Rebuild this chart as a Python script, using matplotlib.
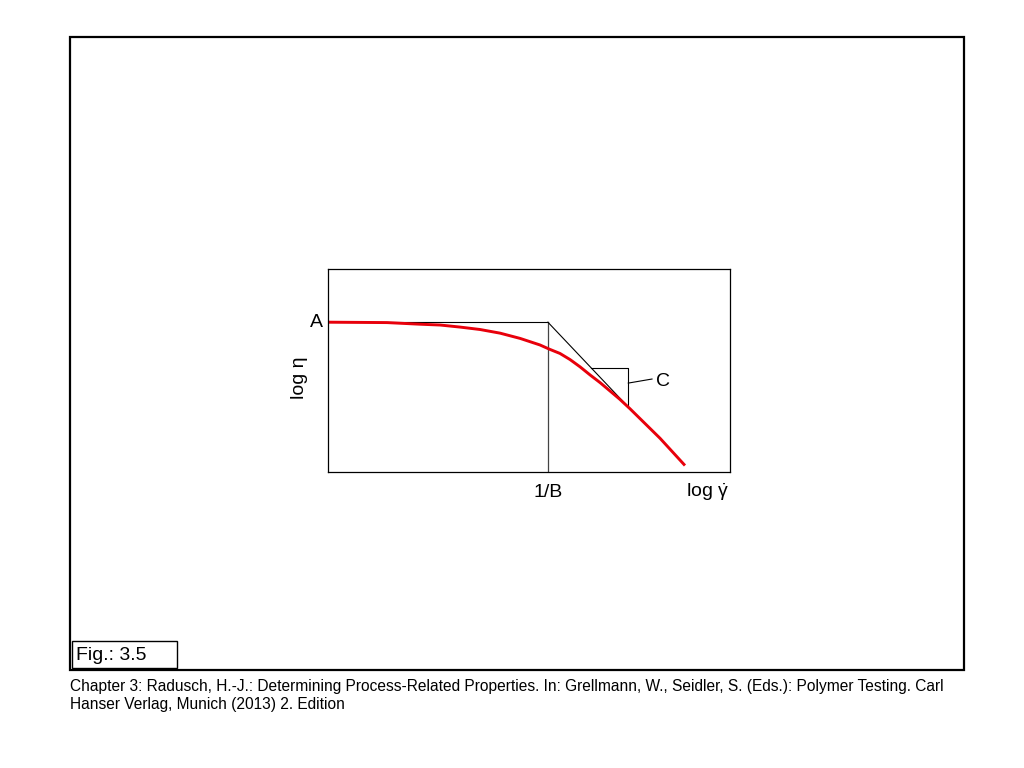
import matplotlib
matplotlib.use("Agg")
import matplotlib.pyplot as plt
from matplotlib.patches import Rectangle

plt.rcParams['font.family'] = ['Liberation Sans', 'DejaVu Sans']
plt.rcParams['mathtext.fontset'] = 'custom'
plt.rcParams['mathtext.rm'] = 'Liberation Sans'

# curve (log shear rate, log viscosity), arbitrary units
log_rate = [0.0, 1.47, 2.29, 2.79, 3.28, 3.78, 4.28, 4.78, 5.27, 5.52, 5.77, 6.02,
            6.27, 6.52, 6.77, 7.01, 7.26, 7.51, 8.26, 8.88]
log_visc = [3.69, 3.68, 3.64, 3.62, 3.57, 3.51, 3.42, 3.29, 3.13, 3.02, 2.92, 2.77,
            2.59, 2.39, 2.20, 2.00, 1.79, 1.56, 0.83, 0.16]

a_level = 3.69        # zero shear viscosity level (A)
b_pos = 5.47          # 1/B position
tangent_end = (7.47, 1.60)
tri_top = 2.56
tri_left = 6.54
c_lead = [(7.47, 2.19), (8.06, 2.29)]

fig = plt.figure(figsize=(10.24, 7.68), dpi=100)

# outer frame
fig.patches.append(Rectangle((70 / 1024, 1 - 670 / 768), 894 / 1024, 633 / 768,
                             transform=fig.transFigure, fill=False, lw=1.6, ec='black'))
fig.patches.append(Rectangle((72 / 1024, 1 - 668 / 768), 105 / 1024, 27 / 768,
                             transform=fig.transFigure, fill=False, lw=1.0, ec='black'))
fig.text(76 / 1024, 1 - 655 / 768, "Fig.: 3.5", fontsize=14, va='center', ha='left')
fig.text(70 / 1024, 1 - 686 / 768,
         "Chapter 3: Radusch, H.-J.: Determining Process-Related Properties. In: Grellmann, W., Seidler, S. (Eds.): Polymer Testing. Carl",
         fontsize=11.2, va='center', ha='left')
fig.text(70 / 1024, 1 - 705 / 768, "Hanser Verlag, Munich (2013) 2. Edition",
         fontsize=11.2, va='center', ha='left')

ax = fig.add_axes([328 / 1024, 1 - 472 / 768, 402 / 1024, 203 / 768])
ax.set_xlim(0, 10)
ax.set_ylim(0, 5)
ax.set_xticks([])
ax.set_yticks([])
for s in ax.spines.values():
    s.set_linewidth(0.9)

# construction lines
ax.plot([0, b_pos], [a_level, a_level], color='black', lw=0.8)
ax.plot([b_pos, b_pos], [0, a_level], color='#444444', lw=0.9)
ax.plot([b_pos, tangent_end[0]], [a_level, tangent_end[1]], color='black', lw=0.8)
ax.plot([tri_left, tangent_end[0], tangent_end[0]], [tri_top, tri_top, tangent_end[1]], color='black', lw=0.8)
ax.plot([c_lead[0][0], c_lead[1][0]], [c_lead[0][1], c_lead[1][1]], color='black', lw=0.8)

# flow curve
ax.plot(log_rate, log_visc, color='#e8000b', lw=2.1, solid_capstyle='butt', solid_joinstyle='round')

ax.text(-0.12, a_level, "A", fontsize=14, ha='right', va='center')
ax.text(8.15, 2.22, "C", fontsize=14, ha='left', va='center')
ax.text(b_pos, -0.5, "1/B", fontsize=14, ha='center', va='center')
ax.text(9.45, -0.5, "log $\\mathrm{\\dot{\\gamma}}$", fontsize=14, ha='center', va='center')
ax.text(-0.7, 2.32, "log η", fontsize=14, ha='center', va='center', rotation=90)

fig.savefig("out.png", dpi=100)
